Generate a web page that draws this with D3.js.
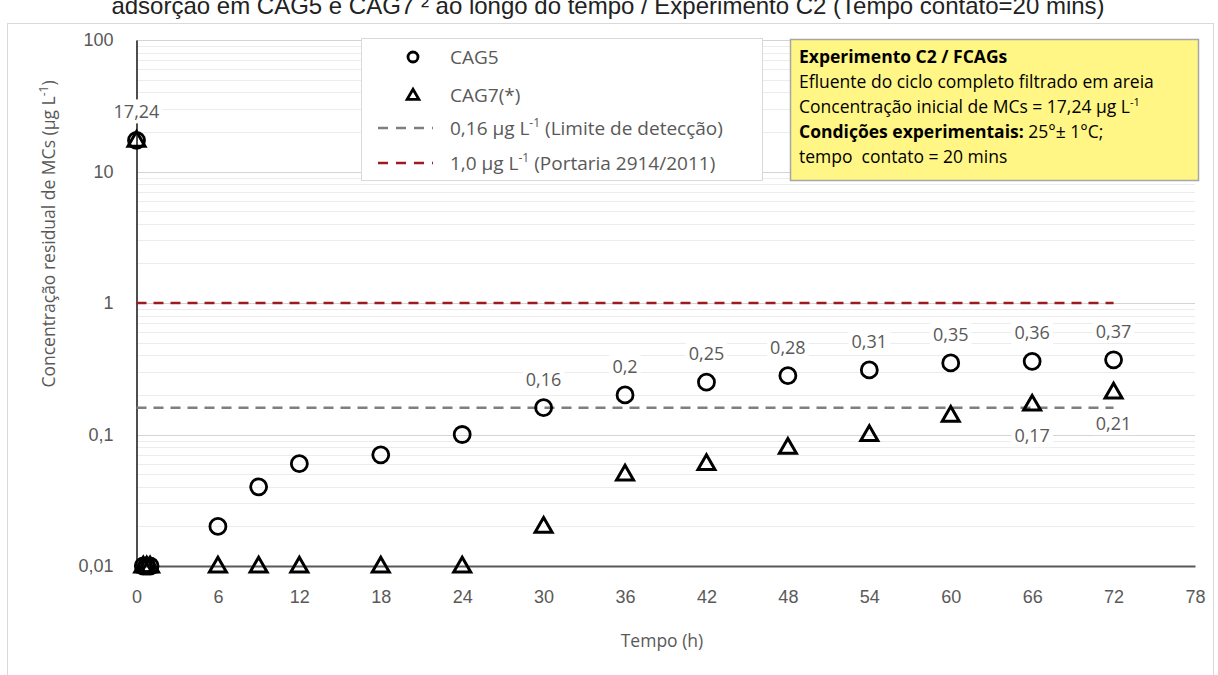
<!DOCTYPE html>
<html>
<head>
<meta charset="utf-8">
<script src="https://cdn.jsdelivr.net/npm/d3@7"></script>
<style>
  body { margin: 0; background: #fff; }
  svg { display: block; font-family: "Open Sans", Lato, sans-serif; }
  .tick-label { fill: #595959; font-size: 18px; }
  .data-label { fill: #595959; font-size: 18px; }
</style>
</head>
<body>
<div id="chart"></div>
<script>
// data
var times = [0, 0.5, 0.75, 1, 6, 9, 12, 18, 24, 30, 36, 42, 48, 54, 60, 66, 72];
var cag5 = [17.24, 0.01, 0.01, 0.01, 0.02, 0.04, 0.06, 0.07, 0.1, 0.16, 0.2, 0.25, 0.28, 0.31, 0.35, 0.36, 0.37];
var cag7 = [17.24, 0.01, 0.01, 0.01, 0.01, 0.01, 0.01, 0.01, 0.01, 0.02, 0.05, 0.06, 0.08, 0.1, 0.14, 0.17, 0.21];
var cag5Labels = ["17,24", null, null, null, null, null, null, null, null, "0,16", "0,2", "0,25", "0,28", "0,31", "0,35", "0,36", "0,37"];
var cag7Labels = [null, null, null, null, null, null, null, null, null, null, null, null, null, null, null, "0,17", "0,21"];
var xTicks = [0, 6, 12, 18, 24, 30, 36, 42, 48, 54, 60, 66, 72, 78];
var yTicks = [0.01, 0.1, 1, 10, 100];
var yTickLabels = ["0,01", "0,1", "1", "10", "100"];
var refValues = [0.16, 1.0];
var refEnd = 72;

var W = 1218, H = 675;
var margin = {left: 136.5, right: 23, top: 40, bottom: 109};

var svg = d3.select("#chart").append("svg")
    .attr("width", W)
    .attr("height", H);

// title, cut off at the top like the original
svg.append("text")
    .attr("x", 608).attr("y", 14)
    .attr("text-anchor", "middle")
    .style("font-family", "'Liberation Sans', Arial, sans-serif")
    .style("font-size", "24px")
    .attr("fill", "#222")
    .text("adsorção em CAG5 e CAG7 ² ao longo do tempo / Experimento C2 (Tempo contato=20 mins)");

// chart area border
svg.append("rect")
    .attr("x", 7.5).attr("y", 23.5)
    .attr("width", 1206).attr("height", 660)
    .attr("fill", "none")
    .attr("stroke", "#d9d9d9");

var x = d3.scaleLinear().domain([0, 78]).range([margin.left, W - margin.right]);
var y = d3.scaleLog().domain([0.01, 100]).range([H - margin.bottom, margin.top]);

// gridlines: minor first, then majors
var minor = [];
for (var e = -2; e < 2; e++) {
  for (var m = 2; m <= 9; m++) minor.push(m * Math.pow(10, e));
}
svg.append("g").selectAll("line").data(minor).enter().append("line")
    .attr("x1", x(0)).attr("x2", x(78))
    .attr("y1", function(d) { return Math.round(y(d)) + 0.5; })
    .attr("y2", function(d) { return Math.round(y(d)) + 0.5; })
    .attr("stroke", "#ececec");

svg.append("g").selectAll("line").data(yTicks.slice(1)).enter().append("line")
    .attr("x1", x(0)).attr("x2", x(78))
    .attr("y1", function(d) { return Math.round(y(d)) + 0.5; })
    .attr("y2", function(d) { return Math.round(y(d)) + 0.5; })
    .attr("stroke", "#d4d4d4");

// axes
var yAxis = d3.axisLeft(y).tickValues(yTicks)
    .tickFormat(function(d, i) { return yTickLabels[i]; })
    .tickSize(0).tickPadding(23);
var gy = svg.append("g")
    .attr("transform", "translate(" + x(0) + ",0)")
    .call(yAxis);
gy.select(".domain").attr("stroke", "#222").attr("stroke-width", 1.6);
gy.selectAll("text").attr("class", "tick-label").attr("font-family", null).attr("font-size", null);

var xAxis = d3.axisBottom(x).tickValues(xTicks).tickSize(0).tickPadding(24);
var gx = svg.append("g")
    .attr("transform", "translate(0," + y(0.01) + ")")
    .call(xAxis);
gx.select(".domain").attr("stroke", "#595959").attr("stroke-width", 2.2);
gx.selectAll("text").attr("class", "tick-label").attr("font-family", null).attr("font-size", null);

// axis titles
svg.append("text")
    .attr("transform", "translate(55," + 234 + ") rotate(-90)")
    .attr("text-anchor", "middle")
    .attr("fill", "#595959")
    .style("font-size", "17.5px")
    .html("Concentração residual de MCs (µg L<tspan dy='-7' font-size='12'>-1</tspan><tspan dy='7'>)</tspan>");

svg.append("text")
    .attr("x", 662).attr("y", 647)
    .attr("text-anchor", "middle")
    .attr("fill", "#595959")
    .style("font-size", "17.5px")
    .text("Tempo (h)");

// reference lines
var refColors = ["#7f7f7f", "#9b1c1f"];
svg.append("g").selectAll("line").data(refValues).enter().append("line")
    .attr("x1", x(0)).attr("x2", x(refEnd))
    .attr("y1", function(d) { return y(d); })
    .attr("y2", function(d) { return y(d); })
    .attr("stroke", function(d, i) { return refColors[i]; })
    .attr("stroke-width", 2.5)
    .attr("stroke-dasharray", "10,7");

// markers
var tri = d3.symbol().type(d3.symbolTriangle).size(125);
svg.append("g").selectAll("path").data(times).enter().append("path")
    .attr("d", tri)
    .attr("transform", function(d, i) { return "translate(" + x(d) + "," + (y(cag7[i]) + 1) + ")"; })
    .attr("fill", "none")
    .attr("stroke", "#000")
    .attr("stroke-width", 3);

svg.append("g").selectAll("circle").data(times).enter().append("circle")
    .attr("cx", function(d) { return x(d); })
    .attr("cy", function(d, i) { return y(cag5[i]); })
    .attr("r", 8)
    .attr("fill", "none")
    .attr("stroke", "#000")
    .attr("stroke-width", 2.8);

// data labels with white backing
function addLabels(values, labels, dy) {
  var g = svg.append("g");
  times.forEach(function(t, i) {
    if (!labels[i]) return;
    var lg = g.append("g");
    var txt = lg.append("text")
        .attr("class", "data-label")
        .attr("x", x(t))
        .attr("y", y(values[i]) + dy)
        .attr("text-anchor", "middle")
        .attr("dominant-baseline", "central")
        .text(labels[i]);
    var b = txt.node().getBBox();
    lg.insert("rect", "text")
        .attr("x", b.x - 3).attr("y", b.y)
        .attr("width", b.width + 6).attr("height", b.height)
        .attr("fill", "#fff");
  });
}
addLabels(cag5, cag5Labels, -29);
addLabels(cag7, cag7Labels, 31);

// legend
var lg = svg.append("g");
lg.append("rect")
    .attr("x", 361.5).attr("y", 38.5)
    .attr("width", 401).attr("height", 142)
    .attr("fill", "#fff")
    .attr("stroke", "#d9d9d9");
var legRows = [57, 95, 128, 163];
lg.append("circle").attr("cx", 413).attr("cy", legRows[0]).attr("r", 5)
    .attr("fill", "none").attr("stroke", "#000").attr("stroke-width", 2.8);
lg.append("path").attr("d", d3.symbol().type(d3.symbolTriangle).size(60))
    .attr("transform", "translate(413," + (legRows[1] + 1) + ")")
    .attr("fill", "none").attr("stroke", "#000").attr("stroke-width", 2.8);
lg.selectAll("line.leg").data(refColors).enter().append("line")
    .attr("x1", 378).attr("x2", 433)
    .attr("y1", function(d, i) { return legRows[2 + i]; })
    .attr("y2", function(d, i) { return legRows[2 + i]; })
    .attr("stroke", function(d) { return d; })
    .attr("stroke-width", 2.5)
    .attr("stroke-dasharray", "10,8");
var legTexts = ["CAG5", "CAG7(*)",
  "0,16 µg L<tspan dy='-8' font-size='12'>-1</tspan><tspan dy='8'> (Limite de detecção)</tspan>",
  "1,0 µg L<tspan dy='-8' font-size='12'>-1</tspan><tspan dy='8'> (Portaria 2914/2011)</tspan>"];
legTexts.forEach(function(t, i) {
  lg.append("text")
      .attr("x", 450).attr("y", legRows[i] + 7)
      .attr("fill", "#595959")
      .style("font-size", "19px")
      .html(t);
});

// yellow note box
var nb = svg.append("g");
nb.append("rect")
    .attr("x", 790.5).attr("y", 39.5)
    .attr("width", 408).attr("height", 141)
    .attr("fill", "#fff685")
    .attr("stroke", "#a6a6a6")
    .attr("stroke-width", 1.5);
var noteLines = [
  "<tspan font-weight='bold'>Experimento C2 / FCAGs</tspan>",
  "Efluente do ciclo completo filtrado em areia",
  "Concentração inicial de MCs = 17,24 µg L<tspan dy='-7' font-size='11'>-1</tspan>",
  "<tspan font-weight='bold'>Condições experimentais:</tspan> 25°± 1°C;",
  "tempo  contato = 20 mins"
];
noteLines.forEach(function(t, i) {
  nb.append("text")
      .attr("x", 799).attr("y", 63 + i * 25)
      .attr("fill", "#000")
      .style("font-size", "17.5px")
      .style("white-space", "pre")
      .html(t);
});
</script>
</body>
</html>
